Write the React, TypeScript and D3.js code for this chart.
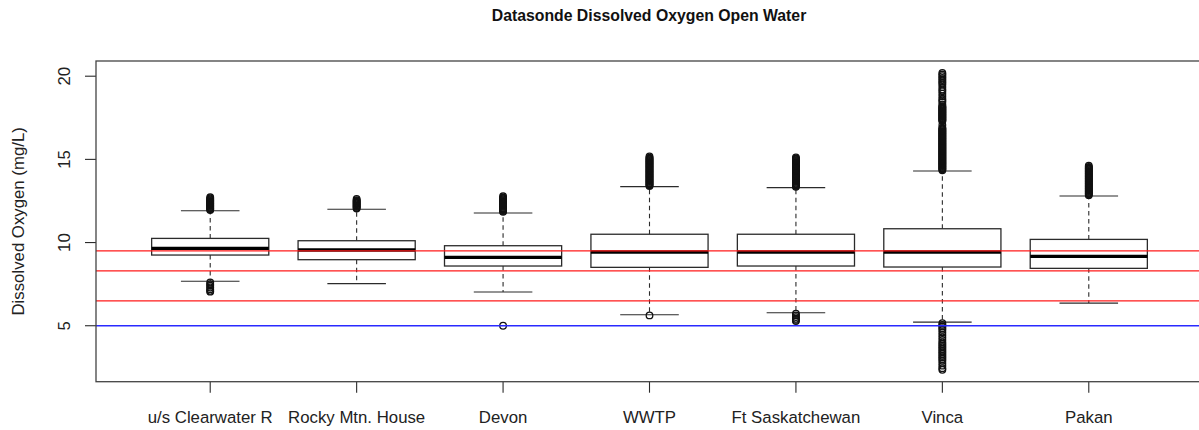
import React from "react";
import * as d3 from "d3";

const categories = [
  "u/s Clearwater R",
  "Rocky Mtn. House",
  "Devon",
  "WWTP",
  "Ft Saskatchewan",
  "Vinca",
  "Pakan",
];
const lowerWhisker = [7.67, 7.53, 7.03, 5.66, 5.78, 5.22, 6.36];
const q1 = [9.25, 8.97, 8.59, 8.51, 8.59, 8.53, 8.45];
const median = [9.65, 9.55, 9.11, 9.43, 9.43, 9.43, 9.17];
const q3 = [10.25, 10.11, 9.81, 10.5, 10.5, 10.83, 10.19];
const upperWhisker = [11.91, 12.0, 11.78, 13.36, 13.3, 14.3, 12.8];

const outClearwater = [
  11.95, 12.0, 12.05, 12.1, 12.15, 12.2, 12.25, 12.3, 12.35, 12.4, 12.45, 12.5,
  12.55, 12.6, 12.65, 12.72, 7.6, 7.5, 7.4, 7.3, 7.2, 7.1, 7.05,
];
const outRocky = [
  12.05, 12.1, 12.15, 12.2, 12.25, 12.3, 12.35, 12.4, 12.45, 12.5, 12.55, 12.62,
];
const outDevon = [
  11.85, 11.9, 11.95, 12.0, 12.05, 12.1, 12.15, 12.2, 12.25, 12.3, 12.35, 12.4,
  12.45, 12.5, 12.55, 12.6, 12.65, 12.7, 12.78, 5.0,
];
const outWWTP = [
  13.4, 13.45, 13.5, 13.55, 13.6, 13.65, 13.7, 13.75, 13.8, 13.85, 13.9, 13.95,
  14.0, 14.05, 14.1, 14.15, 14.2, 14.25, 14.3, 14.35, 14.4, 14.45, 14.5, 14.55,
  14.6, 14.65, 14.7, 14.75, 14.8, 14.85, 14.9, 14.95, 15.0, 15.05, 15.1, 15.18,
  5.62,
];
const outFtSask = [
  13.35, 13.4, 13.45, 13.5, 13.55, 13.6, 13.65, 13.7, 13.75, 13.8, 13.85, 13.9,
  13.95, 14.0, 14.05, 14.1, 14.15, 14.2, 14.25, 14.3, 14.35, 14.4, 14.45, 14.5,
  14.55, 14.6, 14.65, 14.7, 14.75, 14.8, 14.85, 14.9, 14.95, 15.0, 15.05, 15.12,
  5.72, 5.62, 5.52, 5.42, 5.35, 5.28,
];
const outVinca = [
  14.35, 14.4, 14.45, 14.5, 14.55, 14.6, 14.65, 14.7, 14.75, 14.8, 14.85, 14.9,
  14.95, 15.0, 15.05, 15.1, 15.15, 15.2, 15.25, 15.3, 15.35, 15.4, 15.45, 15.5,
  15.55, 15.6, 15.65, 15.7, 15.75, 15.8, 15.85, 15.9, 15.95, 16.0, 16.05, 16.1,
  16.15, 16.2, 16.25, 16.3, 16.35, 16.4, 16.45, 16.5, 16.55, 16.6, 16.65, 16.7,
  16.75, 16.8, 16.85, 16.9, 17.07, 17.3, 17.35, 17.4, 17.45, 17.5, 17.55, 17.6,
  17.65, 17.7, 17.75, 17.8, 17.85, 17.9, 17.95, 18.0, 18.05, 18.1, 18.15, 18.2,
  18.3, 18.45, 18.55, 18.65, 18.8, 18.95, 19.1, 19.2, 19.35, 19.5, 19.6, 19.7,
  19.8, 19.9, 20.0, 20.1, 20.2,
  5.15, 5.05, 4.95, 4.85, 4.75, 4.6, 4.45, 4.3, 4.15, 4.0, 3.9, 3.8, 3.7, 3.6,
  3.5, 3.4, 3.3, 3.2, 3.1, 3.0, 2.9, 2.75, 2.6, 2.45, 2.35,
];
const outPakan = [
  12.85, 12.9, 12.95, 13.0, 13.05, 13.1, 13.15, 13.2, 13.25, 13.3, 13.35, 13.4,
  13.45, 13.5, 13.55, 13.6, 13.65, 13.7, 13.75, 13.8, 13.85, 13.9, 13.95, 14.0,
  14.05, 14.1, 14.15, 14.2, 14.25, 14.3, 14.35, 14.4, 14.45, 14.5, 14.55, 14.62,
];
const outliers = [outClearwater, outRocky, outDevon, outWWTP, outFtSask, outVinca, outPakan];

const redGuidelines = [9.5, 8.3, 6.5];
const blueGuidelines = [5];
const yTicks = [5, 10, 15, 20];

const title = "Datasonde Dissolved Oxygen Open Water";
const yTitle = "Dissolved Oxygen (mg/L)";

const W = 1199;
const H = 430;
const plotLeft = 96;
const plotRight = 1203;
const plotTop = 61;
const plotBottom = 381.7;
const FONT = "'Liberation Sans', Arial, Helvetica, sans-serif";

export default function App() {
  const allVals = [...lowerWhisker, ...upperWhisker, ...outliers.flat()];
  const vmin = d3.min(allVals) as number;
  const vmax = d3.max(allVals) as number;
  const pad = (vmax - vmin) * 0.04;
  const y = d3.scaleLinear().domain([vmin - pad, vmax + pad]).range([plotBottom, plotTop]);
  const n = categories.length;
  const x = d3
    .scaleLinear()
    .domain([0.5 - n * 0.04, n + 0.5 + n * 0.04])
    .range([plotLeft, plotRight]);
  const bw = x(1.4) - x(1); // half box width
  const sw = bw / 2; // half staple width
  const lineColor = "#2b2b2b";

  return (
    <svg
      width={W}
      height={H}
      style={{ position: "absolute", left: 0, top: 0, background: "#fff" }}
      fontFamily={FONT}
    >
      <rect x={0} y={0} width={W} height={H} fill="#fff" />
      <text x={649} y={21} textAnchor="middle" fontWeight="bold" fontSize={15.8} fill="#111">
        {title}
      </text>
      <text
        transform={`translate(24,${(plotTop + plotBottom) / 2}) rotate(-90)`}
        textAnchor="middle"
        fontSize={16.8}
        fill="#222"
      >
        {yTitle}
      </text>
      {/* y axis */}
      {yTicks.map((t) => (
        <g key={t}>
          <line x1={plotLeft - 11} x2={plotLeft} y1={y(t)} y2={y(t)} stroke={lineColor} strokeWidth={1.1} />
          <text
            transform={`translate(70,${y(t)}) rotate(-90)`}
            textAnchor="middle"
            fontSize={16.8}
            fill="#222"
          >
            {t}
          </text>
        </g>
      ))}
      {/* x axis */}
      {categories.map((c, i) => (
        <g key={c}>
          <line x1={x(i + 1)} x2={x(i + 1)} y1={plotBottom} y2={plotBottom + 11} stroke={lineColor} strokeWidth={1.1} />
          <text x={x(i + 1)} y={423.3} textAnchor="middle" fontSize={16.8} fill="#222">
            {c}
          </text>
        </g>
      ))}
      {/* boxes */}
      {categories.map((c, i) => {
        const cx = x(i + 1);
        return (
          <g key={"b" + c}>
            <line x1={cx} x2={cx} y1={y(q3[i])} y2={y(upperWhisker[i])} stroke={lineColor} strokeWidth={1.1} strokeDasharray="4.5,3.5" />
            <line x1={cx} x2={cx} y1={y(q1[i])} y2={y(lowerWhisker[i])} stroke={lineColor} strokeWidth={1.1} strokeDasharray="4.5,3.5" />
            <line x1={cx - sw} x2={cx + sw} y1={y(upperWhisker[i])} y2={y(upperWhisker[i])} stroke={lineColor} strokeWidth={1.1} />
            <line x1={cx - sw} x2={cx + sw} y1={y(lowerWhisker[i])} y2={y(lowerWhisker[i])} stroke={lineColor} strokeWidth={1.1} />
            <rect
              x={cx - bw}
              y={y(q3[i])}
              width={2 * bw}
              height={y(q1[i]) - y(q3[i])}
              fill="#fff"
              stroke={lineColor}
              strokeWidth={1.3}
            />
            <line x1={cx - bw} x2={cx + bw} y1={y(median[i])} y2={y(median[i])} stroke="#000" strokeWidth={3.4} />
            {outliers[i].map((v, k) => (
              <circle key={k} cx={cx} cy={y(v)} r={3.3} fill="none" stroke="#111" strokeWidth={1.3} />
            ))}
          </g>
        );
      })}
      {/* guidelines */}
      {redGuidelines.map((g) => (
        <line key={"r" + g} x1={plotLeft} x2={plotRight} y1={y(g)} y2={y(g)} stroke="#ff1a1a" strokeWidth={1.3} />
      ))}
      {blueGuidelines.map((g) => (
        <line key={"bl" + g} x1={plotLeft} x2={plotRight} y1={y(g)} y2={y(g)} stroke="#2a2aff" strokeWidth={1.3} />
      ))}
      {/* plot frame */}
      <rect
        x={plotLeft}
        y={plotTop}
        width={plotRight - plotLeft}
        height={plotBottom - plotTop}
        fill="none"
        stroke="#444"
        strokeWidth={1.3}
      />
    </svg>
  );
}
